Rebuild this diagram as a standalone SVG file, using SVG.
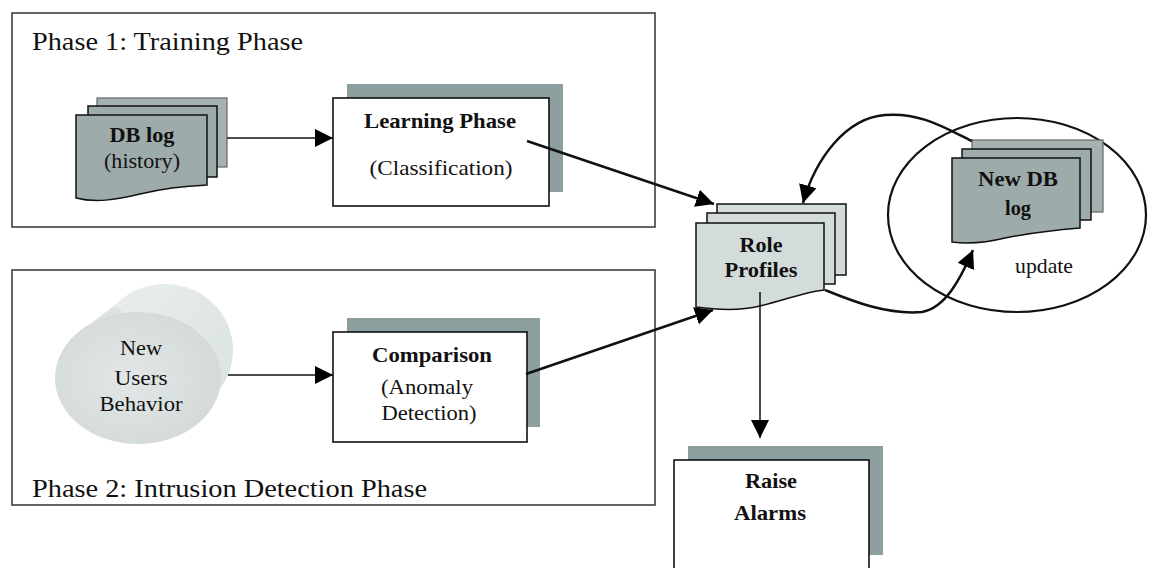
<svg xmlns="http://www.w3.org/2000/svg" width="1150" height="568" viewBox="0 0 1150 568">
<style>
.phase{fill:none;stroke:#333;stroke-width:1.5}
.shadow{fill:#8c9e9e}
.box{fill:#fff;stroke:#111;stroke-width:1.6}
.dark{fill:#9eabab;stroke:#111;stroke-width:1.5}
.darkback{fill:#a6b2b2;stroke:#666;stroke-width:1.2}
.light{fill:#d3dbdb;stroke:#111;stroke-width:1.5}
.title{font-family:"Liberation Serif",serif;font-size:26px;fill:#111}
.b{font-family:"Liberation Serif",serif;font-weight:bold;font-size:21px;fill:#111;text-anchor:middle}
.r{font-family:"Liberation Serif",serif;font-size:21px;fill:#111;text-anchor:middle}
.thin{fill:none;stroke:#111;stroke-width:1.5}
.thick{fill:none;stroke:#111;stroke-width:2.5}
</style>
<defs>
<marker id="ah" markerUnits="userSpaceOnUse" markerWidth="20" markerHeight="18" refX="18" refY="9" orient="auto">
<path d="M0,0 L18,9 L0,18 Z" fill="#000"/>
</marker>
<linearGradient id="cylBack" x1="0" y1="0" x2="1" y2="1">
<stop offset="0" stop-color="#eaeeee"/>
<stop offset="1" stop-color="#d9e1e1"/>
</linearGradient>
<radialGradient id="cylFront" cx="0.45" cy="0.5" r="0.6">
<stop offset="0" stop-color="#e2e6e6"/>
<stop offset="1" stop-color="#d3d9d9"/>
</radialGradient>
</defs>
<rect width="1150" height="568" fill="#fff"/>

<g id="phase1">
<rect class="phase" x="12" y="13" width="643" height="214"/>
<text class="title" x="32" y="50" textLength="271" lengthAdjust="spacingAndGlyphs">Phase 1: Training Phase</text>
</g>
<g id="phase2">
<rect class="phase" x="12" y="270" width="643" height="235"/>
<text class="title" x="32" y="497" textLength="395" lengthAdjust="spacingAndGlyphs">Phase 2: Intrusion Detection Phase</text>
</g>

<g id="dblog">
<rect class="darkback" x="97" y="98" width="130" height="69"/>
<rect class="dark" x="88" y="106" width="129" height="71"/>
<path class="dark" d="M76,115 H207 V185 C185,186 165,188 140,194 C115,200 95,203 76,198 Z"/>
<text class="b" x="142" y="142" textLength="65" lengthAdjust="spacingAndGlyphs">DB log</text>
<text class="r" x="142" y="168" textLength="76" lengthAdjust="spacingAndGlyphs">(history)</text>
</g>

<g id="learning">
<rect class="shadow" x="347" y="84" width="216" height="108"/>
<rect class="box" x="333" y="98" width="216" height="108"/>
<text class="b" x="440" y="128" textLength="152" lengthAdjust="spacingAndGlyphs">Learning Phase</text>
<text class="r" x="441" y="175" textLength="143" lengthAdjust="spacingAndGlyphs">(Classification)</text>
</g>

<g id="newusers">
<ellipse cx="165" cy="350" rx="68" ry="66" fill="url(#cylBack)"/>
<path d="M72,338 L115,305 L215,395 L204,418 Z" fill="#dde3e3"/>
<ellipse cx="138" cy="378" rx="83" ry="66" fill="url(#cylFront)"/>
<text class="r" x="141" y="355" textLength="42" lengthAdjust="spacingAndGlyphs">New</text>
<text class="r" x="141" y="385" textLength="53" lengthAdjust="spacingAndGlyphs">Users</text>
<text class="r" x="141" y="411" textLength="83" lengthAdjust="spacingAndGlyphs">Behavior</text>
</g>

<g id="comparison">
<rect class="shadow" x="347" y="318" width="193" height="109"/>
<rect class="box" x="333" y="332" width="194" height="110"/>
<text class="b" x="432" y="362" textLength="120" lengthAdjust="spacingAndGlyphs">Comparison</text>
<text class="r" x="427" y="394" textLength="92" lengthAdjust="spacingAndGlyphs">(Anomaly</text>
<text class="r" x="429" y="420" textLength="95" lengthAdjust="spacingAndGlyphs">Detection)</text>
</g>

<g id="roleprofiles">
<rect class="light" x="717" y="204" width="129" height="71"/>
<rect class="light" x="707" y="213" width="128" height="71"/>
<path class="light" d="M696,223 H824 V290 C805,292 785,300 760,306 C740,311 718,310 696,307 Z"/>
<text class="b" x="761" y="252" textLength="43" lengthAdjust="spacingAndGlyphs">Role</text>
<text class="b" x="761" y="277" textLength="73" lengthAdjust="spacingAndGlyphs">Profiles</text>
</g>

<g id="update">
<ellipse cx="1017" cy="215" rx="129" ry="97" fill="none" stroke="#111" stroke-width="2.2"/>
<text class="r" x="1044" y="273" textLength="58" lengthAdjust="spacingAndGlyphs">update</text>
</g>

<g id="newdblog">
<rect class="darkback" x="972" y="140" width="131" height="72"/>
<rect class="dark" x="962" y="149" width="129" height="71"/>
<path class="dark" d="M952,158 H1080 V228 C1055,230 1030,233 1005,238 C985,243 968,244 952,242 Z"/>
<text class="b" x="1018" y="186" textLength="80" lengthAdjust="spacingAndGlyphs">New DB</text>
<text class="b" x="1018" y="215" textLength="26" lengthAdjust="spacingAndGlyphs">log</text>
</g>

<g id="raisealarms">
<rect class="shadow" x="688" y="446" width="195" height="109"/>
<rect class="box" x="674" y="460" width="195" height="120"/>
<text class="b" x="771" y="488" textLength="52" lengthAdjust="spacingAndGlyphs">Raise</text>
<text class="b" x="770" y="520" textLength="72" lengthAdjust="spacingAndGlyphs">Alarms</text>
</g>

<g id="connectors">
<line class="thin" x1="227" y1="138" x2="333" y2="138" marker-end="url(#ah)"/>
<line class="thin" x1="228" y1="375" x2="333" y2="375" marker-end="url(#ah)"/>
<line class="thick" x1="527" y1="141" x2="714" y2="204" marker-end="url(#ah)"/>
<line class="thick" x1="526" y1="374" x2="713" y2="310" marker-end="url(#ah)"/>
<line class="thin" x1="760" y1="292" x2="760" y2="438" marker-end="url(#ah)"/>
<path class="thick" d="M972,141 C945,128 920,112 885,115 C845,118 815,160 803,203" marker-end="url(#ah)"/>
<path class="thick" d="M825,290 C850,300 885,315 922,312 C945,308 960,280 973,250" marker-end="url(#ah)"/>
</g>
</svg>
